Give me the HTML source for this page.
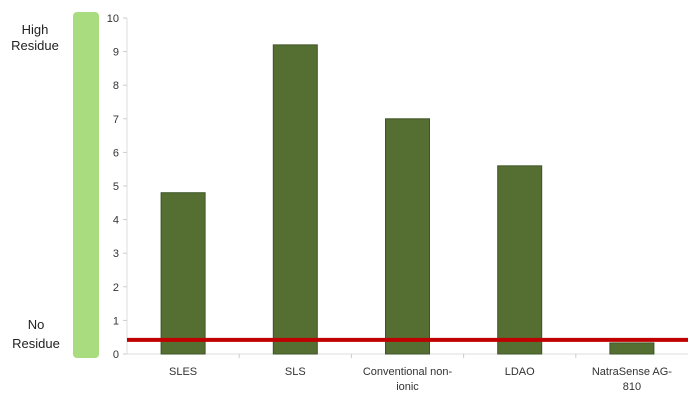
<!DOCTYPE html>
<html><head><meta charset="utf-8"><style>
body{margin:0;background:#fff;}
svg{display:block;font-family:"Liberation Sans",sans-serif;}
</style></head><body>
<svg id="c" width="695" height="401">
<rect x="0" y="0" width="695" height="401" fill="#fff"/>
<rect x="73" y="12" width="26" height="346" rx="4" fill="#a9dc7e"/>
<text x="35" y="34" font-size="13" fill="#222" text-anchor="middle">High</text>
<text x="35" y="50" font-size="13" fill="#222" text-anchor="middle">Residue</text>
<text x="36" y="329" font-size="13" fill="#222" text-anchor="middle">No</text>
<text x="36" y="348" font-size="13" fill="#222" text-anchor="middle">Residue</text>
<g id="g"></g>
</svg>
<script>
const categories=["SLES","SLS","Conventional non-|ionic","LDAO","NatraSense AG-|810"];
const values=[4.8,9.2,7.0,5.6,0.33];
const yTicks=[0,1,2,3,4,5,6,7,8,9,10];
const threshold=[0.42];
const NS="http://www.w3.org/2000/svg";
const g=document.getElementById('g');
const x0=127,x1=688,yb=354,yt=18,ymax=10;
const y=v=>yb-(v/ymax)*(yb-yt);
const bw=(x1-x0)/categories.length;
const xc=i=>x0+bw*(i+0.5);
function mk(t,a){const e=document.createElementNS(NS,t);for(const k in a)e.setAttribute(k,a[k]);g.appendChild(e);return e;}
let ax=mk('line',{x1:x0,y1:yt,x2:x0,y2:yb,stroke:'#ddd'});


let bx=mk('line',{x1:x0,y1:yb,x2:x1,y2:yb,stroke:'#ddd'});


yTicks.forEach(t=>{
 const tk=mk('line',{x1:x0-4,y1:y(t),x2:x0,y2:y(t),stroke:'#ccc'});
 
 
 const tx=mk('text',{x:x0-8,y:y(t)+4,'font-size':11,fill:'#333','text-anchor':'end'});
 tx.textContent=t;
 
 
});
for(let i=1;i<categories.length;i++){
 const tk=mk('line',{x1:x0+bw*i,y1:yb,x2:x0+bw*i,y2:yb+4,stroke:'#ccc'});
 
 
}
values.forEach((v,i)=>{
 const b=mk('rect',{x:xc(i)-22,y:y(v),width:44,height:yb-y(v),fill:'#556f33',stroke:'#3f5426','stroke-width':1});
 
 
 categories[i].split('|').forEach((s,j)=>{
  const t=mk('text',{x:xc(i),y:yb+21+j*15,'font-size':11,fill:'#333','text-anchor':'middle'});
  t.textContent=s;
  
  
 });
});
const rl=mk('line',{x1:x0,y1:y(threshold[0]),x2:x1,y2:y(threshold[0]),stroke:'#c00000','stroke-width':4});


</script>
</body></html>
